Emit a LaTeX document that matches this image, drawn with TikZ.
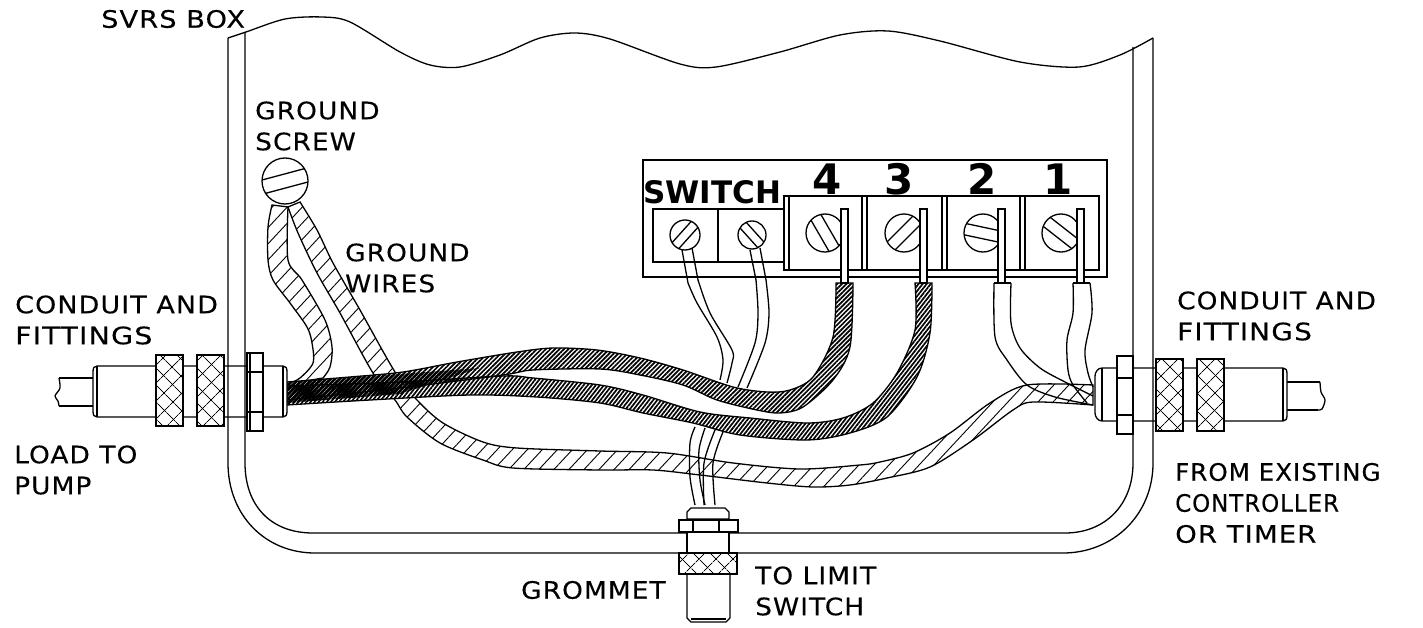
\documentclass[tikz,border=0pt]{standalone}
\usepackage{fontspec}
\setmainfont[FakeStretch=1.1,LetterSpace=4.5,FakeBold=0.3]{DejaVu Sans}
\newfontfamily\boldlabel{DejaVu Sans Bold}
\usetikzlibrary{patterns.meta}
\newcommand{\ribbon}[2]{plot[smooth] coordinates {#1} -- plot[smooth] coordinates {#2} -- cycle}
\newcommand{\cablefour}{\ribbon{(287,382) (350,377) (403,372) (457,362) (517,352) (553,348) (597,350) (640,358) (683,370) (733,387) (767,392) (790,390) (813,377) (833,337) (836,283)}{(853,283) (850,347) (833,380) (803,407) (780,413) (757,410) (717,400) (683,385) (640,375) (600,369) (533,370) (503,375) (400,388) (287,400)}}
\newcommand{\cablethree}{\ribbon{(287,386) (400,382) (503,376) (533,378) (600,385) (643,395) (700,412) (750,418) (807,423) (843,418) (873,403) (897,373) (915,330) (915,283)}{(932,283) (930,333) (917,377) (887,417) (850,433) (807,440) (740,435) (693,423) (643,413) (600,403) (537,397) (470,395) (370,400) (287,405)}}
\newcommand{\widen}[2]{\scalebox{#1}[1]{#2}}
\tikzset{
    line/.style={line width=1.3pt, black},
    labeltext/.style={anchor=west, inner sep=0pt, align=left, font=\fontsize{24}{31}\selectfont},
    hatchwire/.style={line, fill=white, postaction={pattern={Lines[angle=47,distance=11pt,line width=.9pt]}}},
    knurl/.style={line, fill=white, postaction={pattern={Lines[angle=45,distance=13pt,line width=.9pt]}}, postaction={pattern={Lines[angle=-45,distance=13pt,line width=.9pt]}}},
    part/.style={line, fill=white},
}
\begin{document}
\begin{tikzpicture}[x=1pt,y=-1pt]
    \useasboundingbox (0,0) rectangle (1423,628);
    \fill[white] (0,0) rectangle (1423,628);

    % Ground wires
    \draw[hatchwire] \ribbon{(272,205) (268,227) (268,260) (273,280) (290,303) (307,327) (312,343) (313,363) (300,378) (288,384)}{(323,378) (330,367) (332,347) (325,320) (302,280) (288,260) (288,207)};
    \draw[hatchwire] \ribbon{(288,207) (298,233) (317,273) (340,313) (373,373) (395,400) (407,417) (440,443) (483,460) (513,468) (600,470) (653,470) (700,475) (767,483) (813,487) (850,485) (887,478) (930,467) (973,440) (1013,410) (1033,402) (1093,405)}{(1093,385) (1027,385) (990,403) (950,433) (913,453) (880,462) (860,465) (800,469) (733,463) (667,453) (600,451) (517,448) (483,442) (443,423) (417,400) (395,372) (360,310) (333,263) (317,230) (300,202)};

    % Switch wires
    \draw[line] plot[smooth] coordinates {(688,283) (697,303) (717,337) (723,360) (720,380)};
    \draw[line] plot[smooth] coordinates {(698,280) (710,313) (732,350) (732,363) (727,383)};
    \draw[line] plot[smooth] coordinates {(756,280) (758,313) (755,343) (738,387)};
    \draw[line] plot[smooth] coordinates {(766,280) (769,313) (765,343) (747,388)};
    \draw[line] plot[smooth] coordinates {(695,427) (690,443) (690,477) (695,505)};
    \draw[line] plot[smooth] coordinates {(705,428) (699,450) (700,480) (705,505)};
    \draw[line] plot[smooth] coordinates {(715,430) (704,463) (704,505)};
    \draw[line] plot[smooth] coordinates {(723,432) (713,463) (715,505)};

    % Dark cables
    \fill[white] \cablefour;
    \fill[white] \cablethree;
    \draw[line, pattern={Lines[angle=45,distance=3.2pt,line width=1.7pt]}] \cablefour;
    \draw[line, pattern={Lines[angle=52,distance=3.2pt,line width=1.7pt]}] \cablethree;
    \fill[pattern={Lines[angle=45,distance=3.2pt,line width=2.7pt]}] (287,382) -- (400,374) -- (480,368) -- (400,394) -- (287,403) -- cycle;

    % Wires to terminals 2 and 1
    \draw[line] plot[smooth] coordinates {(994,283) (995,337) (1007,360) (1027,385) (1055,397) (1093,405)};
    \draw[line] plot[smooth] coordinates {(1011,283) (1011,323) (1020,348) (1040,368) (1065,382) (1093,396)};
    \draw[line] plot[smooth] coordinates {(1073,283) (1073,313) (1067,340) (1068,370) (1073,385) (1087,403)};
    \draw[line] plot[smooth] coordinates {(1090,283) (1092,313) (1085,350) (1088,373) (1093,387)};
    \draw[line] (994,283) -- (1011,283) (1073,283) -- (1090,283);

    % Left fitting
    \draw[line] plot[smooth] coordinates {(59,378) (60,388) (55,396) (58,401) (59,406)};
    \draw[line] (59,378) -- (93,378) (59,406) -- (93,406);
    \draw[part] (97,366) .. controls (94,366) and (93,368) .. (93,372) -- (93,411) .. controls (93,415) and (94,417) .. (97,417) -- (283,417) .. controls (286,417) and (287,415) .. (287,411) -- (287,372) .. controls (287,368) and (286,366) .. (283,366) -- cycle;
    \draw[line] (97,366) -- (97,417) (283,366) -- (283,417);
    \draw[knurl] (156,355) rectangle (183,426);
    \draw[knurl] (197,355) rectangle (224,426);
    \draw[part] (247,353) rectangle (263,431);
    \draw[line] (250,353) -- (250,431) (247,372) -- (263,372) (247,412) -- (263,412);
    \draw[line width=2.2pt] (263,353) -- (263,431);

    % Right fitting
    \draw[line] plot[smooth] coordinates {(1320,382) (1321,392) (1325,400) (1322,409) (1318,410)};
    \draw[line] (1287,382) -- (1320,382) (1287,410) -- (1318,410);
    \draw[part] (1102,368) .. controls (1098,368) and (1095,372) .. (1095,376) -- (1095,413) .. controls (1095,417) and (1098,421) .. (1102,421) -- (1283,421) .. controls (1286,421) and (1287,419) .. (1287,415) -- (1287,374) .. controls (1287,370) and (1286,368) .. (1283,368) -- cycle;
    \draw[line] (1102,368) -- (1102,421) (1283,368) -- (1283,421);
    \draw[knurl] (1156,359) rectangle (1183,431);
    \draw[knurl] (1197,359) rectangle (1224,431);
    \draw[part] (1117,356) rectangle (1133,434);
    \draw[line] (1117,378) -- (1133,378) (1117,415) -- (1133,415);
    \draw[line width=2.2pt] (1117,356) -- (1117,434);

    % Box walls
    \draw[line] (228,38) -- (228,463) .. controls (228,515) and (265,553) .. (315,553) -- (1063,553) .. controls (1113,553) and (1153,515) .. (1153,463) -- (1153,38);
    \draw[line] (245,32) -- (245,463) .. controls (245,505) and (270,533) .. (313,533) -- (1065,533) .. controls (1105,533) and (1133,505) .. (1133,463) -- (1133,47);
    \draw[line] plot[smooth] coordinates {(228,38) (246,32) (285,19) (322,17) (350,22) (400,52) (430,65) (460,67) (500,55) (540,38) (575,33) (610,39) (680,64) (716,67) (780,52) (840,35) (888,31) (940,41) (1020,62) (1079,67) (1120,55) (1153,38)};

    % Grommet
    \draw[part] (687,532) rectangle (729,553);
    \draw[part] (687,519) -- (687,512) -- (691,508) -- (725,508) -- (729,512) -- (729,519) -- cycle;
    \draw[part] (679,520) rectangle (738,532);
    \draw[line] (693,520) -- (693,532) (719,520) -- (719,532);
    \draw[line width=2.2pt] (679,520) -- (738,520) (679,532) -- (738,532);
    \draw[part] (687,574) -- (687,618) -- (691,622) -- (726,622) -- (730,618) -- (730,574) -- cycle;
    \draw[line] (691,619) -- (726,619);
    \draw[knurl] (679,553) rectangle (737,574);

    % Terminal block
    \draw[part] (643,160) rectangle (1107,277);
    \draw[part] (653,209) rectangle (784,262);
    \draw[line] (718,209) -- (718,262);
    \draw[part] (784,196) rectangle (1099,270);
    \foreach \x in {789,862,867,942,947,1020,1025} {
        \draw[line] (\x,196) -- (\x,270);
    }
    % Wires up to the switch screws
    \draw[line] (682,250) -- (688,283) (692,248) -- (698,280) (750,250) -- (756,280) (760,248) -- (766,280);
    \foreach \x/\y/\r/\a in {685/235/15/48, 752/235/14/-48, 825/233/19/-60, 904/233/19/45, 983/233/19/-12, 1061/233/19/-38, 285/181/23/15} {
        \draw[part] (\x,\y) circle (\r);
        \begin{scope}[shift={(\x,\y)},rotate=\a]
            \draw[line] (-.95*\r,-.3*\r) -- (.95*\r,-.3*\r);
            \draw[line] (-.95*\r,.3*\r) -- (.95*\r,.3*\r);
        \end{scope}
    }
    \foreach \x in {841,920,998,1077} {
        \draw[part] (\x,209) rectangle ++(7,74);
    }

    % Labels
    \node[font=\boldlabel\fontsize{31}{31}\selectfont, anchor=west, inner sep=0pt] (switchlabel) at (643,192) {SWITCH};
    \foreach \x/\t in {827/4,899/3,982/2,1058/1} {
        \node[font=\boldlabel\fontsize{42}{42}\selectfont, inner sep=0pt] (term\t) at (\x,179) {\t};
    }
    \node[labeltext] (svrs) at (101,19) {\widen{1.03}{SVRS BOX}};
    \node[labeltext] (screwlabel) at (255,126) {GROUND\\SCREW};
    \node[labeltext] (wirelabel) at (345,268) {GROUND\\WIRES};
    \node[labeltext] (loadconduit) at (15,320) {\widen{1.02}{CONDUIT AND}\\\widen{1.08}{FITTINGS}};
    \node[labeltext] (loadlabel) at (14,470) {LOAD TO\\PUMP};
    \node[labeltext] (lineconduit) at (1177,316) {CONDUIT AND\\\widen{1.06}{FITTINGS}};
    \node[labeltext] (fromlabel) at (1175,503) {\widen{.93}{FROM EXISTING}\\\widen{.87}{CONTROLLER}\\\widen{1.04}{OR TIMER}};
    \node[labeltext] (gromlabel) at (521,590) {GROMMET};
    \node[labeltext] (limitlabel) at (755,591) {TO LIMIT\\SWITCH};
\end{tikzpicture}
\end{document}
